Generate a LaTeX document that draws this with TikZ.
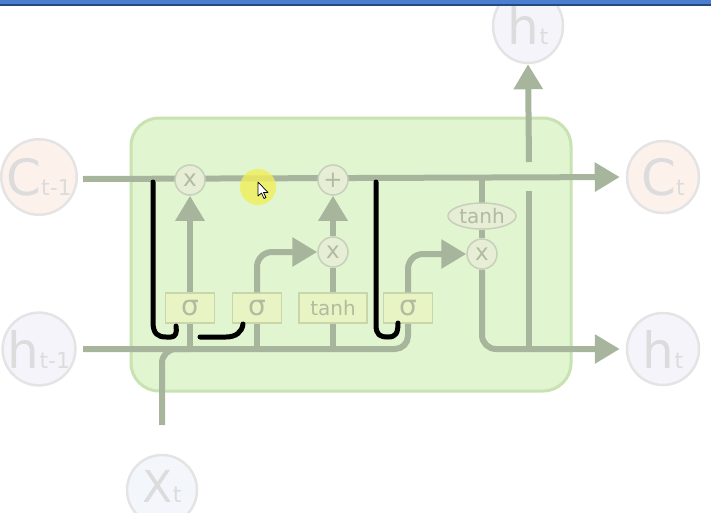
\documentclass[tikz,border=0pt]{standalone}
\usepackage{fontspec}
\setmainfont{DejaVu Sans}
\usetikzlibrary{arrows.meta,shapes.geometric}
\definecolor{flowc}{HTML}{A7B59D}
\definecolor{gatefill}{HTML}{E6EED6}
\definecolor{gatedraw}{HTML}{C8CFBA}
\definecolor{boxfill}{HTML}{E8F4C4}
\definecolor{boxdraw}{HTML}{C9D6A9}
\definecolor{boxtext}{HTML}{B2BBA0}
\definecolor{cellfill}{HTML}{E1F5D1}
\definecolor{celldraw}{HTML}{C8E2B2}
\definecolor{circtext}{HTML}{DCDCDC}
\definecolor{circdraw}{HTML}{E4E4E4}
\definecolor{cpink}{HTML}{FDF1EC}
\definecolor{hlav}{HTML}{F6F4FB}
\definecolor{xblue}{HTML}{F3F6FB}
\definecolor{hiyel}{HTML}{F0EE5A}
\definecolor{barblue}{HTML}{4A7FCF}
\definecolor{bardark}{HTML}{23497E}
\newcommand\subtx[1]{{\fontsize{22}{22}\selectfont #1}}
\tikzset{
  circnode/.style={circle, minimum size=72pt, inner sep=0, draw=circdraw, line width=2.5pt, text=circtext, font=\fontsize{50}{50}\selectfont},
  gate/.style={circle, minimum size=30pt, inner sep=0, fill=gatefill, draw=gatedraw, line width=1.5pt, text=boxtext, font=\fontsize{23}{23}\selectfont},
  gbox/.style={rectangle, minimum width=49pt, minimum height=30pt, inner sep=0, fill=boxfill, draw=boxdraw, line width=1.5pt, text=boxtext},
  flow/.style={draw=flowc, line width=6pt},
  flowarr/.style={flow, -{Triangle[length=25pt,width=28pt]}},
  annot/.style={draw=black, line width=5pt, line cap=round, line join=round},
}
\begin{document}
\begin{tikzpicture}[x=1pt,y=-1pt]
\useasboundingbox (0,0) rectangle (711,512);
% cell body
\draw[fill=cellfill, draw=celldraw, line width=3pt, rounded corners=28pt] (131,118) rectangle (571,391);
% outer circles
\node[circnode, fill=cpink] (Ct1) at (39,177) {C\subtx{t-1}};
\node[circnode, fill=hlav] (ht1) at (39,349) {h\subtx{t-1}};
\node[circnode, fill=cpink] (Ct) at (663,177) {C\subtx{t}};
\node[circnode, fill=hlav] (ht) at (663,349) {h\subtx{t}};
\node[ellipse, minimum width=70pt, minimum height=74pt, inner sep=0, draw=circdraw, line width=2.5pt, fill=hlav, text=circtext, font=\fontsize{50}{50}\selectfont] (htop) at (528,26) {h\subtx{t}};
\node[circnode, minimum size=70pt, fill=xblue, font=\fontsize{44}{44}\selectfont] (xt) at (162,490) {\raisebox{8pt}{X\subtx{t}}};
% boxes
\node[gbox, font=\fontsize{28}{28}\selectfont] (s1) at (190,308) {σ};
\node[gbox, font=\fontsize{28}{28}\selectfont] (s2) at (257,308) {σ};
\node[gbox, minimum width=68pt, font=\fontsize{20}{20}\selectfont] (tb) at (333,308) {tanh};
\node[gbox, font=\fontsize{28}{28}\selectfont] (s4) at (408,308) {σ};
% coordinates
\coordinate (cin) at (83,179);
\coordinate (hin) at (83,349);
\coordinate (xin) at (162,425);
\coordinate (vlow) at (529,191);
\coordinate (vtop) at (529,162);
% gate positions
\coordinate (g1p) at (190,180);
\coordinate (plp) at (333,180);
\coordinate (g2p) at (333,252);
\coordinate (g3p) at (482,254);
\coordinate (tep) at (482,216);
% flows (drawn before gates)
\draw[flowarr, shorten >=6pt] (cin) -- (Ct.west);
\draw[flow, rounded corners=13pt] (hin) -| (s4.south);
\draw[flow, rounded corners=14pt] (xin) |- (190,349);
\draw[flow] (s1.south) -- (s1.south |- hin);
\draw[flow] (s2.south) -- (s2.south |- hin);
\draw[flow] (tb.south) -- (tb.south |- hin);
\draw[flow] (tep |- cin) -- (tep);
\node[gate, ellipse, minimum width=68pt, minimum height=26pt, font=\fontsize{20}{20}\selectfont] (te) at (tep) {tanh};
\node[gate] (g1) at (g1p) {x};
\node[gate] (pl) at (plp) {+};
\node[gate] (g2) at (g2p) {x};
\node[gate] (g3) at (g3p) {x};
\draw[flowarr] (s1.north) -- (g1.south);
\draw[flowarr, rounded corners=15pt] (s2.north) |- (g2.west);
\draw[flow] (tb.north) -- (g2.south);
\draw[flowarr] (g2.north) -- (pl.south);
\draw[flowarr, rounded corners=15pt] (s4.north) |- (g3.west);
\draw[flow] (te.south) -- (g3.north);
\draw[flowarr, rounded corners=14pt, shorten >=6pt] (g3.south) |- (ht.west);
\draw[flow] (vlow |- hin) -- (vlow);
\draw[flowarr] (vtop) -- (htop.south);
% black annotations
\draw[annot] (153,182) -- (153,322) .. controls (153,334) and (158,337) .. (166,337) -- (171,337) .. controls (176,337) and (177,332) .. (176,326);
\draw[annot] (200,337) -- (226,337) .. controls (236,337) and (242,332) .. (243,324);
\draw[annot] (376,182) -- (376,325) .. controls (376,335) and (380,337) .. (388,337) .. controls (396,337) and (398,333) .. (398,323);
% highlight and cursor
\fill[hiyel, opacity=0.8] (258,187) circle (18);
\draw[fill=white, draw=black, line width=0.7pt, line join=round] (258,182) -- (258,196) -- (261.5,193) -- (264,198.5) -- (266,197.5) -- (263.5,192.5) -- (268,192.5) -- cycle;
% top bar
\fill[barblue] (0,0) rectangle (711,4);
\fill[bardark] (0,4) rectangle (711,5.5);
\end{tikzpicture}
\end{document}
